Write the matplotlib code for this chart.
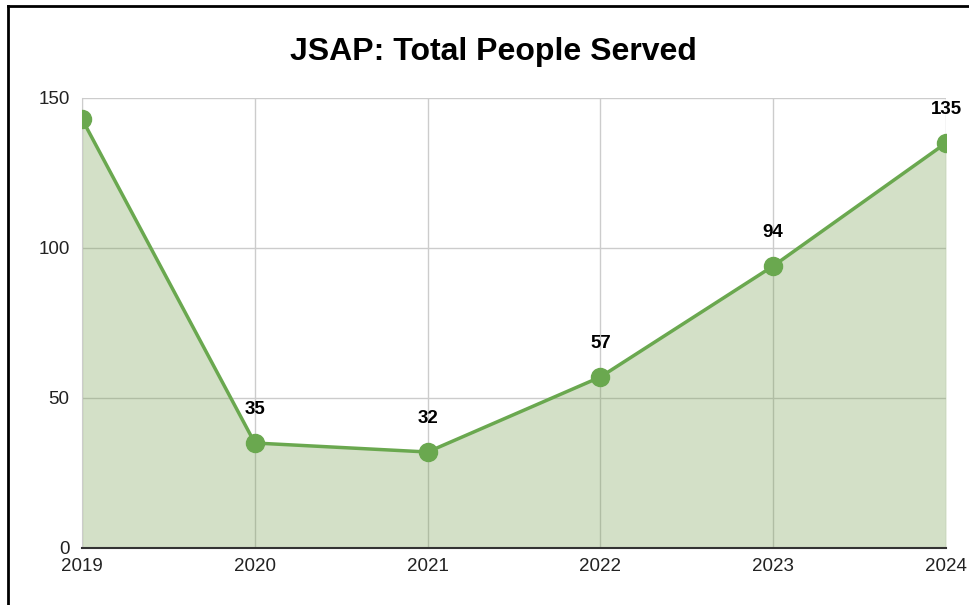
import matplotlib
matplotlib.use("Agg")
import matplotlib.pyplot as plt
from matplotlib.lines import Line2D

plt.rcParams['font.family'] = ['Liberation Sans', 'DejaVu Sans']

years = [2019, 2020, 2021, 2022, 2023, 2024]
people = [143, 35, 32, 57, 94, 135]
labelled = [False, True, True, True, True, True]
yticks = [0, 50, 100, 150]

green = '#6aa84f'
fill_base = '#709b48'
grid_c = '#cccccc'

fig = plt.figure(figsize=(9.7, 6.05), dpi=100)
ax = fig.add_axes([82/970, 57/605, (946-82)/970, (548-98)/605])

ax.fill_between(years, people, 0, color=fill_base, alpha=0.3, zorder=2, linewidth=0)
ax.plot(years, people, color=green, linewidth=2.5, zorder=3,
        marker='o', markersize=13, clip_on=True)

for x, y, show in zip(years, people, labelled):
    if show:
        ax.annotate(str(y), (x, y), xytext=(0, 18), textcoords='offset points',
                    ha='center', va='bottom', fontsize=13.5, fontweight='bold',
                    color='#000000', annotation_clip=False)

ax.set_xlim(years[0], years[-1])
ax.set_ylim(0, 150)
ax.set_xticks(years)
ax.set_yticks(yticks)
ax.tick_params(axis='both', length=0, labelsize=13.5, colors='#222222')
ax.tick_params(axis='x', pad=7)
ax.tick_params(axis='y', pad=9)
ax.grid(True, color=grid_c, linewidth=1, zorder=0)
ax.set_axisbelow(True)
for s in ['top', 'right']:
    ax.spines[s].set_visible(False)
ax.spines['left'].set_color(grid_c)
ax.spines['bottom'].set_color('#333333')
ax.spines['bottom'].set_linewidth(1.5)
ax.spines['bottom'].set_zorder(4)

fig.text(493/970, 1 - 52/605, 'JSAP: Total People Served', ha='center', va='center',
         fontsize=23, fontweight='bold', color='#000000')

fig.add_artist(Line2D([8/970, 8/970], [0, 1 - 6/605], transform=fig.transFigure,
                      color='black', linewidth=2))
fig.add_artist(Line2D([8/970, 1], [1 - 6/605, 1 - 6/605], transform=fig.transFigure,
                      color='black', linewidth=2))

fig.savefig('out.png', dpi=100)
